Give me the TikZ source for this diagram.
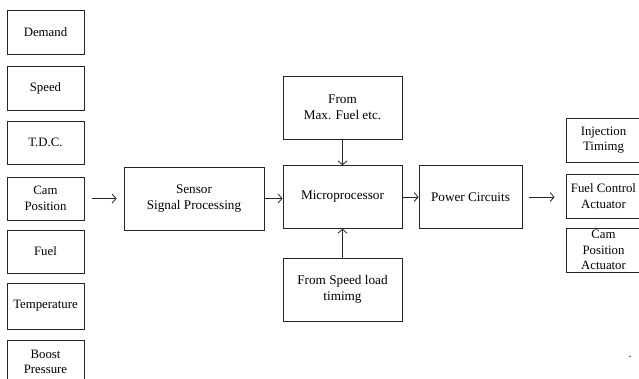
\documentclass[tikz,border=0pt]{standalone}
\usepackage{fontspec}
\setmainfont{Liberation Serif}
\usetikzlibrary{arrows.meta}
\begin{document}
\begin{tikzpicture}[x=1pt,y=-1pt,
  blk/.style={draw=black!85,line width=0.8pt,align=center,inner sep=0pt,
    font=\fontsize{12.8}{15.5}\selectfont},
  sbox/.style={blk,minimum width=77pt},
  bbox/.style={blk,minimum width=119pt,minimum height=62.5pt,font=\fontsize{13.2}{16}\selectfont},
  obox/.style={blk,minimum width=75pt,minimum height=44pt},
  arr/.style={draw=black!85,line width=0.8pt,-{Straight Barb[length=4pt,width=9pt]}}]
\useasboundingbox (0,0) rectangle (639,378);
\clip (0,0) rectangle (639,378);
% left column
\node[sbox,minimum height=44pt] (demand) at (45.5,32) {Demand};
\node[sbox,minimum height=44pt] (speed) at (45.5,88) {Speed};
\node[sbox,minimum height=43pt] (tdc) at (45.5,142.5) {T.D.C.};
\node[sbox,minimum height=43pt] (cam) at (45.5,198.5) {Cam\\Position};
\node[sbox,minimum height=43pt] (fuel) at (45.5,251.5) {Fuel};
\node[sbox,minimum height=46pt] (temp) at (45.5,306) {Temperature};
\node[sbox,minimum height=44pt] (boost) at (45.5,362) {Boost\\Pressure};
% middle
\node[bbox,minimum width=140pt,minimum height=63pt] (sensor) at (194,198.5) {Sensor\\Signal Processing};
\node[bbox] (micro) at (342.5,197) {Microprocessor};
\node[bbox,minimum height=63pt] (maxf) at (342.5,107.5) {From\\Max. Fuel etc.};
\node[bbox,minimum height=63pt] (spd) at (342.5,289.5) {From Speed load\\timimg};
\node[bbox,minimum width=103pt] (power) at (470.5,197) {Power Circuits};
% outputs
\node[obox] (inj) at (603.5,140) {Injection\\Timimg};
\node[obox] (fc) at (603.5,196) {Fuel Control\\Actuator};
\node[obox] (camact) at (603.5,250) {Cam\\Position\\Actuator};
\node[font=\fontsize{12}{14}\selectfont,inner sep=0pt] (dot) at (630,357) {.};
% connectors
\draw[arr,shorten <=8pt,shorten >=7pt] (cam.east) -- (sensor.west);
\draw[arr] (sensor.east) -- (sensor.east -| micro.west);
\draw[arr] (micro.east) -- (power.west);
\draw[arr,shorten <=7pt,shorten >=11pt] (power.east) -- (power.east -| fc.west);
\draw[arr] (maxf.south) -- (micro.north);
\draw[arr] (spd.north) -- (micro.south);
\end{tikzpicture}
\end{document}
